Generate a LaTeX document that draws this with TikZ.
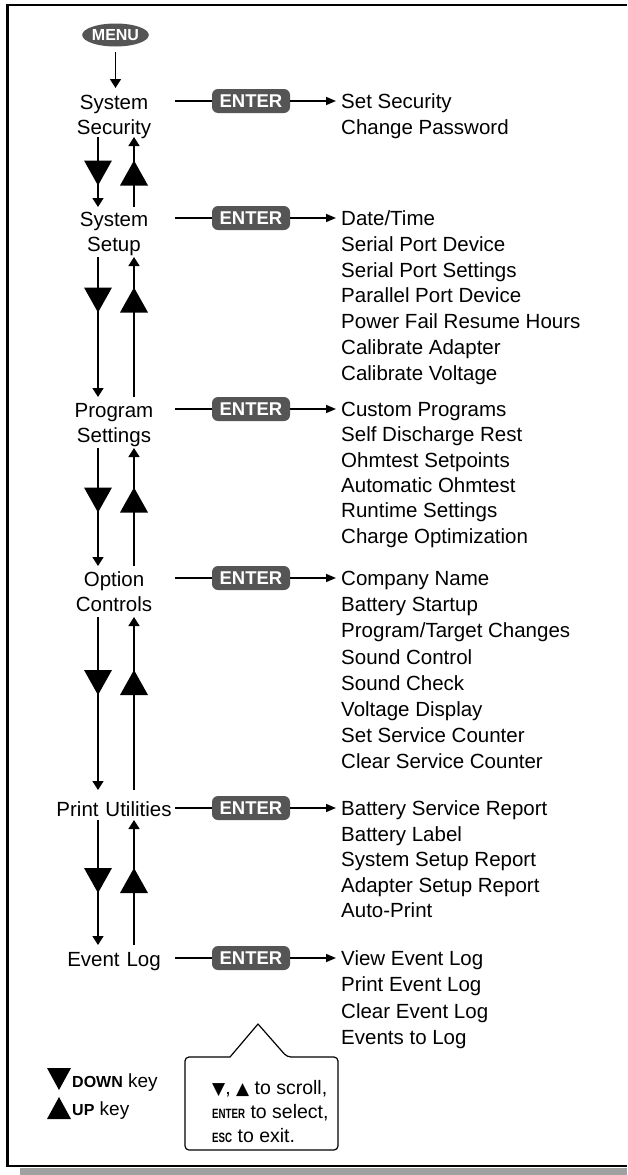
\documentclass[tikz,border=0pt]{standalone}
\usepackage{fontspec}
\setmainfont{Liberation Sans}
\newfontfamily\symfont{DejaVu Sans}
\usetikzlibrary{arrows.meta,decorations.markings,shapes.geometric}
\definecolor{btngray}{RGB}{85,85,85}
\definecolor{shadowgray}{RGB}{160,160,160}
\newcommand{\smallkey}[1]{\scalebox{0.72}[1]{\bfseries\fontsize{13.5}{14}\selectfont #1}}
\begin{document}
\begin{tikzpicture}[x=1pt,y=-1pt,
  body/.style={font=\fontsize{20.5}{24.5}\selectfont},
  leftlbl/.style={body, text width=122pt, align=center, inner xsep=0pt, inner ysep=4pt, anchor=base},
  item/.style={body, anchor=base west, inner xsep=5pt, inner ysep=2pt},
  enterbtn/.style={rounded corners=6pt, fill=btngray, text=white, font=\bfseries\fontsize{18.5}{18}\selectfont, minimum width=78pt, minimum height=24pt, inner sep=0pt},
  hline/.style={line width=1.6pt},
  harrow/.style={hline, -{Triangle[length=10pt,width=8pt]}},
  varrow/.style={line width=1.6pt, -{Triangle[length=9pt,width=11pt]}},
  bigtri/.style={postaction={decorate, decoration={markings, mark=at position #1 with {\fill (12.5,0) -- (-12.5,14) -- (-12.5,-14) -- cycle;}}}},
  legend/.style={font=\fontsize{19}{24}\selectfont, anchor=base west, inner sep=1pt},
]
\useasboundingbox (0,0) rectangle (627,1175);
% frame and shadow
\fill[shadowgray] (20,1167.5) rectangle (627,1175);
\draw[line width=2.5pt] (627,5) -- (7.5,5) -- (7.5,1166) -- (627,1166);

% menu
\node[ellipse, fill=btngray, minimum width=66pt, minimum height=23pt, inner sep=0pt, text=white, font=\bfseries\fontsize{16}{16}\selectfont] (menu) at (115.5,35) {MENU};

% left labels
\node[leftlbl] (sec)  at (114,109.5) {System\\Security};
\node[leftlbl] (setp) at (114,226.5) {System\\Setup};
\node[leftlbl] (prog) at (114,417.5) {Program\\Settings};
\node[leftlbl] (opt)  at (114,586.5) {Option\\Controls};
\node[leftlbl] (prt)  at (114,816.5) {Print Utilities};
\node[leftlbl] (evt)  at (114,966.5) {Event Log};

\draw[varrow, shorten <=5pt] (menu.south) -- (menu.south |- 0,88);

% enter buttons
\node[enterbtn] (ent1) at (251,101) {ENTER};
\node[enterbtn] (ent2) at (251,218) {ENTER};
\node[enterbtn] (ent3) at (251,409) {ENTER};
\node[enterbtn] (ent4) at (251,578) {ENTER};
\node[enterbtn] (ent5) at (251,808) {ENTER};
\node[enterbtn] (ent6) at (251,958) {ENTER};

% item lists
\foreach \t [count=\i] in {Set Security,Change Password}
  \node[item] (s1-\i) at (336,{108.5+(\i-1)*26}) {\t};
\foreach \t [count=\i] in {Date/Time,Serial Port Device,Serial Port Settings,Parallel Port Device,Power Fail Resume Hours,Calibrate Adapter,Calibrate Voltage}
  \node[item] (s2-\i) at (336,{225.5+(\i-1)*25.8}) {\t};
\foreach \t [count=\i] in {Custom Programs,Self Discharge Rest,Ohmtest Setpoints,Automatic Ohmtest,Runtime Settings,Charge Optimization}
  \node[item] (s3-\i) at (336,{416.5+(\i-1)*25.3}) {\t};
\foreach \t [count=\i] in {Company Name,Battery Startup,Program/Target Changes,Sound Control,Sound Check,Voltage Display,Set Service Counter,Clear Service Counter}
  \node[item] (s4-\i) at (336,{585.5+(\i-1)*26.2}) {\t};
\foreach \t [count=\i] in {Battery Service Report,Battery Label,System Setup Report,Adapter Setup Report,Auto-Print}
  \node[item] (s5-\i) at (336,{815.5+(\i-1)*25.5}) {\t};
\foreach \t [count=\i] in {View Event Log,Print Event Log,Clear Event Log,Events to Log}
  \node[item] (s6-\i) at (336,{965.5+(\i-1)*26.3}) {\t};

% horizontal connectors
\foreach \n/\e/\s in {sec/ent1/s1,setp/ent2/s2,prog/ent3/s3,opt/ent4/s4,prt/ent5/s5,evt/ent6/s6}{
  \draw[hline] (\n.east |- \e) -- (\e);
  \draw[harrow] (\e) -- (\s-1.west |- \e);
}

% vertical connectors (down at x=98, up at x=134)
\coordinate (a1) at (0,137); \coordinate (b1) at (0,207);
\coordinate (a2) at (0,257); \coordinate (b2) at (0,397);
\coordinate (a3) at (0,448); \coordinate (b3) at (0,566);
\coordinate (a4) at (0,617); \coordinate (b4) at (0,790);
\coordinate (a5) at (0,820); \coordinate (b5) at (0,945);
\coordinate (dnx) at (98,0); \coordinate (upx) at (134,0);
\draw[varrow, bigtri=36pt]   (dnx |- a1) -- (dnx |- b1);
\draw[varrow, bigtri=34pt]   (upx |- b1) -- (upx |- a1);
\draw[varrow, bigtri=43pt]   (dnx |- a2) -- (dnx |- b2);
\draw[varrow, bigtri=97pt]   (upx |- b2) -- (upx |- a2);
\draw[varrow, bigtri=52pt]   (dnx |- a3) -- (dnx |- b3);
\draw[varrow, bigtri=66pt]   (upx |- b3) -- (upx |- a3);
\draw[varrow, bigtri=65.5pt] (dnx |- a4) -- (dnx |- b4);
\draw[varrow, bigtri=107.5pt](upx |- b4) -- (upx |- a4);
\draw[varrow, bigtri=60.5pt] (dnx |- a5) -- (dnx |- b5);
\draw[varrow, bigtri=64.5pt] (upx |- b5) -- (upx |- a5);

% legend
\fill (47,1068) -- (71,1068) -- (59,1090) -- cycle;
\node[legend] (ldown) at (71,1087) {{\bfseries\fontsize{16}{16}\selectfont DOWN} key};
\fill (47,1119) -- (71,1119) -- (59,1097) -- cycle;
\node[legend] (lup) at (71,1115) {{\bfseries\fontsize{16}{16}\selectfont UP} key};

% callout
\draw[line width=1.2pt, line join=round] (287,1057) -- (258,1024) -- (230,1057)
  [rounded corners=4pt] -- (185,1057) -- (185,1150) -- (338,1150) -- (338,1057) -- cycle;
\node[anchor=base west, align=left, inner sep=1pt, font=\fontsize{19.5}{24}\selectfont] (tip) at (211,1142)
  {{\symfont\fontsize{17}{17}\selectfont ▼}, {\symfont\fontsize{17}{17}\selectfont ▲} to scroll,\\
   \smallkey{ENTER} to select,\\
   \smallkey{ESC} to exit.};
\end{tikzpicture}
\end{document}
